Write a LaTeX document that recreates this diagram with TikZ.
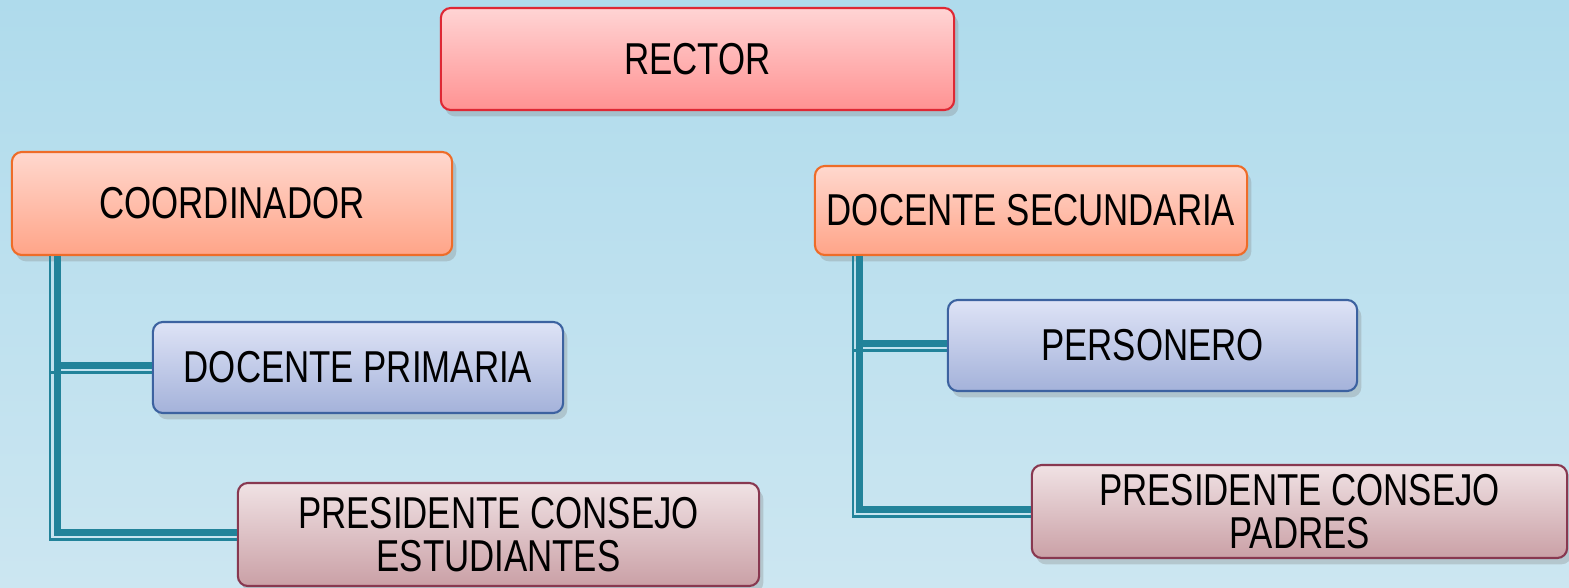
\documentclass[tikz,border=0pt]{standalone}
\usepackage{fontspec}
\setmainfont[FakeStretch=0.78]{Liberation Sans}
\usepackage{tikz}
\usetikzlibrary{shadows}

\definecolor{bgtop}{RGB}{175,219,236}
\definecolor{bgbot}{RGB}{204,230,241}
\definecolor{teal}{RGB}{34,131,154}

\begin{document}
\begin{tikzpicture}[x=0.01cm,y=-0.01cm,
    font=\fontsize{12.7}{12.2}\selectfont,
    box/.style={rectangle,rounded corners=0.1cm,line width=0.6pt,align=center,inner sep=0pt,
      drop shadow={shadow xshift=1.2pt,shadow yshift=-1.8pt,opacity=0.3}},
    rector node/.style={box,draw={rgb,255:red,222;green,40;blue,52},top color={rgb,255:red,255;green,212;blue,212},bottom color={rgb,255:red,255;green,146;blue,146}},
    coord node/.style={box,draw={rgb,255:red,238;green,108;blue,40},top color={rgb,255:red,255;green,216;blue,206},bottom color={rgb,255:red,255;green,164;blue,136}},
    docente node/.style={box,draw={rgb,255:red,60;green,98;blue,160},top color={rgb,255:red,222;green,227;blue,246},bottom color={rgb,255:red,164;green,178;blue,218}},
    presidente node/.style={box,draw={rgb,255:red,136;green,56;blue,80},top color={rgb,255:red,240;green,226;blue,228},bottom color={rgb,255:red,202;green,160;blue,166}},
    link/.style={draw=teal,line width=2pt},
    link thin/.style={draw=teal,line width=0.6pt}]

  \path[use as bounding box,top color=bgtop,bottom color=bgbot] (0,0) rectangle (1569,587);

  \node[rector node,minimum width=5.13cm,minimum height=1.02cm] (rector) at (697.5,59) {RECTOR};

  \node[coord node,minimum width=4.40cm,minimum height=1.03cm] (coordinador) at (232,203.5) {COORDINADOR};
  \node[coord node,minimum width=4.32cm,minimum height=0.89cm] (secundaria) at (1031,210.5) {DOCENTE SECUNDARIA};

  \node[docente node,minimum width=4.10cm,minimum height=0.91cm] (primaria) at (358,367.5) {DOCENTE PRIMARIA};
  \node[docente node,minimum width=4.09cm,minimum height=0.91cm] (personero) at (1152.5,345.5) {PERSONERO};

  \node[presidente node,minimum width=5.21cm,minimum height=1.03cm] (estudiantes) at (498.5,534.5) {PRESIDENTE CONSEJO\\ESTUDIANTES};
  \node[presidente node,minimum width=5.35cm,minimum height=0.93cm] (padres) at (1299.5,511.5) {PRESIDENTE CONSEJO\\PADRES};

  % ramas
  \coordinate (cl) at ([xshift=0.465cm]coordinador.south west);
  \coordinate (cr) at ([xshift=0.46cm]secundaria.south west);

  \foreach \from/\to in {cl/primaria,cl/estudiantes,cr/personero,cr/padres} {
    \draw[link] (\from) |- ([yshift=0.02cm]\to.west);
    \draw[link thin] ([shift={(-7,0)}]\from) |- ([yshift=-0.05cm]\to.west);
  }
\end{tikzpicture}
\end{document}
